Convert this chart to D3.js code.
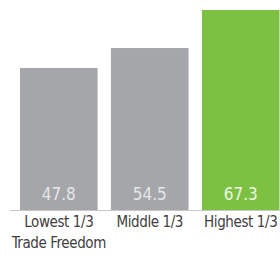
<!DOCTYPE html>
<html>
<head>
<meta charset="utf-8">
<script src="https://cdn.jsdelivr.net/npm/d3@7"></script>
<style>
  html, body { margin: 0; padding: 0; background: #fff; }
  svg { display: block; }
</style>
</head>
<body>
<div id="chart"></div>
<script>
// data
const categories = ["Lowest 1/3", "Middle 1/3", "Highest 1/3"];
const categoryLines = [["Lowest 1/3", "Trade Freedom"], ["Middle 1/3"], ["Highest 1/3"]];
const values = [47.8, 54.5, 67.3];
const barColors = ["#a4a6a9", "#a4a6a9", "#7dc143"];

const W = 280, H = 259;
const baseY = 210;

let svg = d3.select("#chart").append("svg")
    .attr("width", W)
    .attr("height", H);

let x = d3.scaleBand()
    .domain(categories)
    .range([20, 279.5])
    .paddingInner(0.147)
    .paddingOuter(0);

// 0 at the baseline, ~2.97 px per unit
let y = d3.scaleLinear()
    .domain([0, 67.3])
    .range([baseY, 10]);

let font = "'DejaVu Sans Condensed', 'Liberation Sans Narrow', 'Roboto', sans-serif";

svg.selectAll("rect.bar")
    .data(values)
    .enter().append("rect")
    .attr("class", "bar")
    .attr("x", (d, i) => x(categories[i]))
    .attr("y", d => y(d))
    .attr("width", x.bandwidth())
    .attr("height", d => y(0) - y(d))
    .attr("fill", (d, i) => barColors[i]);

// baseline
svg.append("line")
    .attr("x1", 10).attr("x2", W)
    .attr("y1", y(0) + 0.5).attr("y2", y(0) + 0.5)
    .attr("stroke", "#c8c8c8")
    .attr("stroke-width", 1);

// values inside the bars
svg.selectAll("text.val")
    .data(values)
    .enter().append("text")
    .attr("class", "val")
    .attr("x", (d, i) => x(categories[i]) + x.bandwidth() / 2)
    .attr("y", y(0) - 10)
    .attr("text-anchor", "middle")
    .attr("font-family", font)
    .attr("font-size", 17)
    .attr("fill", (d, i) => i == 2 ? "#eef7e6" : "#e6e7e8")
    .text(d => d.toFixed(1));

// category labels
let labels = svg.selectAll("text.cat")
    .data(categoryLines)
    .enter().append("text")
    .attr("class", "cat")
    .attr("text-anchor", "middle")
    .attr("font-family", font)
    .attr("font-size", 15)
    .attr("letter-spacing", -0.4)
    .attr("fill", "#404040");

labels.each(function(lines, i) {
    let cx = x(categories[i]) + x.bandwidth() / 2;
    d3.select(this).selectAll("tspan")
        .data(lines)
        .enter().append("tspan")
        .attr("x", cx)
        .attr("y", (l, j) => 227 + j * 21)
        .text(l => l);
});
</script>
</body>
</html>
